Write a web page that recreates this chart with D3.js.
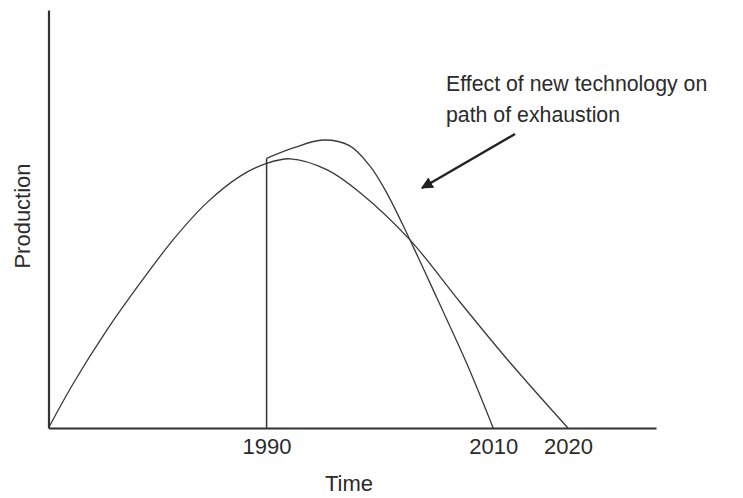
<!DOCTYPE html>
<html>
<head>
<meta charset="utf-8">
<script src="https://cdn.jsdelivr.net/npm/d3@7"></script>
<style>
  body { margin: 0; background: #fff; }
  text { font-family: "Liberation Sans", Arial, sans-serif; fill: #2b2b2b; }
</style>
</head>
<body>
<svg id="chart" width="743" height="498"></svg>
<script>
// time is on a schematic (non-uniform) axis, so positions are in abstract time units 0..100
const tickPositions = [35.9, 73.2, 85.5];
const tickLabels = ['1990', '2010', '2020'];

// original path of exhaustion
const baseTime = [0, 4.1, 9.6, 15.1, 20.5, 26.0, 31.5, 35.9, 39.8, 45.8, 51.3, 59.5, 67.7, 76.0, 85.5];
const baseProd = [0, 10.7, 23.4, 34.7, 45.0, 53.8, 60.2, 63.3, 64.4, 61.8, 56.3, 45.0, 30.2, 15.6, 0];

// path with new technology, starting in 1990
const techTime = [35.9, 40.3, 45.2, 49.6, 52.9, 55.7, 59.5, 63.9, 68.8, 73.2];
const techProd = [64.5, 67.0, 68.9, 67.5, 62.7, 56.2, 45.0, 31.2, 15.6, 0];

const annotation = ['Effect of new technology on', 'path of exhaustion'];

const w = 743, h = 498;
const margins = { left: 48.5, right: 87, top: 10, bottom: 70 };
const svg = d3.select('#chart');

const x = d3.scaleLinear().domain([0, 100]).range([margins.left, w - margins.right]);
const y = d3.scaleLinear().domain([0, 100]).range([h - margins.bottom, margins.top]);

const toPoints = (ts, ps) => ts.map((t, i) => ({ t: t, p: ps[i] }));

const line = d3.line()
  .x(d => x(d.t))
  .y(d => y(d.p))
  .curve(d3.curveCatmullRom.alpha(0.5));

// curves
[toPoints(baseTime, baseProd), toPoints(techTime, techProd)].forEach(pts => {
  svg.append('path')
    .datum(pts)
    .attr('d', line)
    .attr('fill', 'none')
    .attr('stroke', '#3a3a3a')
    .attr('stroke-width', 1.3);
});

// vertical marker at 1990
svg.append('line')
  .attr('x1', x(techTime[0])).attr('x2', x(techTime[0]))
  .attr('y1', y(0)).attr('y2', y(techProd[0]))
  .attr('stroke', '#333')
  .attr('stroke-width', 1.5);

// axes
const xAxis = d3.axisBottom(x)
  .tickValues(tickPositions)
  .tickFormat((d, i) => tickLabels[i])
  .tickSize(0)
  .tickPadding(10);

const gx = svg.append('g')
  .attr('transform', `translate(0, ${y(0)})`)
  .call(xAxis);
gx.select('.domain').attr('stroke', '#333').attr('stroke-width', 2.2);
gx.selectAll('text')
  .style('font-family', '"Liberation Sans", Arial, sans-serif')
  .style('font-size', '22px')
  .attr('fill', '#2b2b2b');

const gy = svg.append('g')
  .attr('transform', `translate(${x(0)}, 0)`)
  .call(d3.axisLeft(y).tickValues([]).tickSize(0));
gy.select('.domain').attr('stroke', '#333').attr('stroke-width', 2.2);

// axis labels
svg.append('text')
  .attr('x', 349)
  .attr('y', 491)
  .style('text-anchor', 'middle')
  .style('font-size', '22px')
  .text('Time');

svg.append('text')
  .attr('transform', `translate(30, ${(y(0) + y(100)) / 2 - 3}) rotate(-90)`)
  .style('text-anchor', 'middle')
  .style('font-size', '22px')
  .text('Production');

// annotation
const note = svg.append('text')
  .attr('x', 446)
  .attr('y', 91)
  .style('font-size', '21.3px');
note.selectAll('tspan')
  .data(annotation)
  .enter()
  .append('tspan')
  .attr('x', 446)
  .attr('dy', (d, i) => i === 0 ? 0 : 31)
  .text(d => d);

svg.append('defs').append('marker')
  .attr('id', 'head')
  .attr('viewBox', '0 0 10 10')
  .attr('refX', 9)
  .attr('refY', 5)
  .attr('markerWidth', 5)
  .attr('markerHeight', 5)
  .attr('markerUnits', 'strokeWidth')
  .attr('orient', 'auto')
  .append('path')
  .attr('d', 'M0,0 L10,5 L0,10 Z')
  .attr('fill', '#222');

svg.append('line')
  .attr('x1', 515).attr('y1', 134)
  .attr('x2', 422).attr('y2', 188)
  .attr('stroke', '#222')
  .attr('stroke-width', 2.4)
  .attr('marker-end', 'url(#head)');
</script>
</body>
</html>
